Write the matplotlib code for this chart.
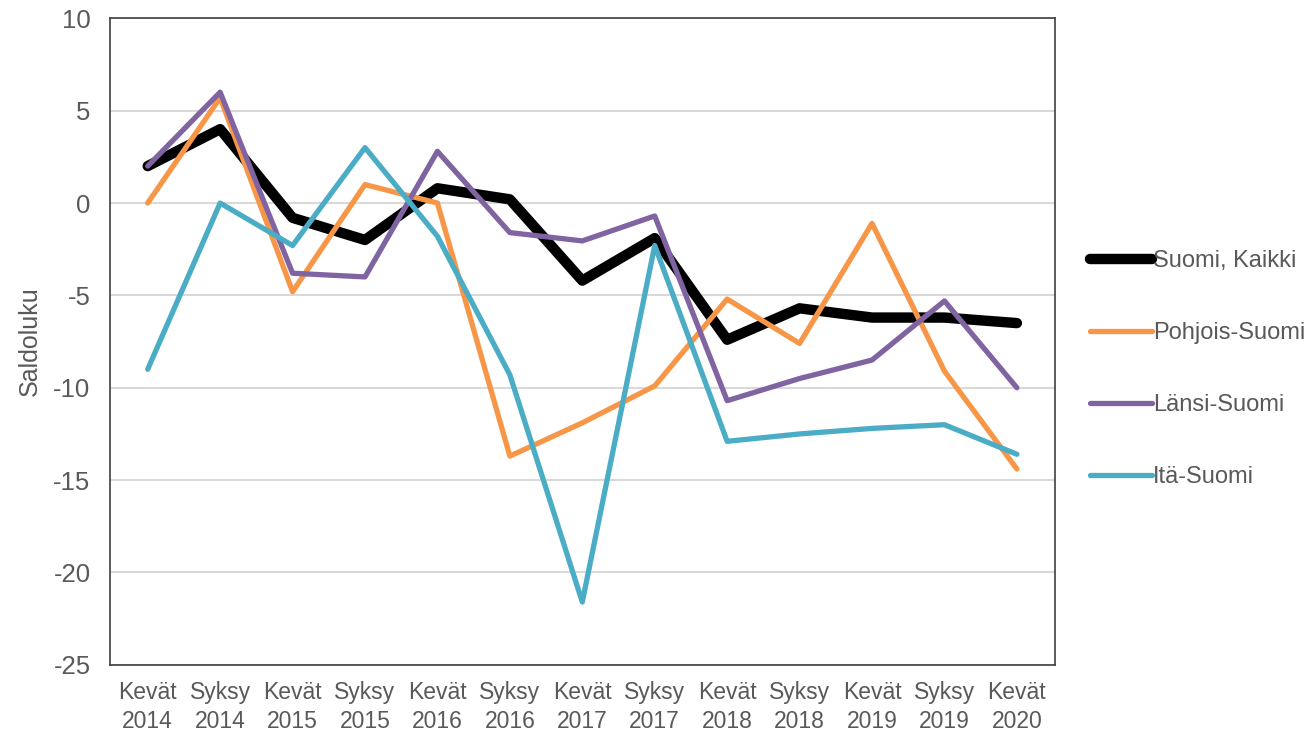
import matplotlib
matplotlib.use("Agg")
import matplotlib.pyplot as plt

plt.rcParams['font.family'] = ['Liberation Sans', 'DejaVu Sans']
plt.rcParams['axes.unicode_minus'] = False

categories = ["Kevät\n2014", "Syksy\n2014", "Kevät\n2015", "Syksy\n2015", "Kevät\n2016",
              "Syksy\n2016", "Kevät\n2017", "Syksy\n2017", "Kevät\n2018", "Syksy\n2018",
              "Kevät\n2019", "Syksy\n2019", "Kevät\n2020"]
suomi_kaikki = [2.0, 4.0, -0.8, -2.0, 0.8, 0.2, -4.2, -1.9, -7.4, -5.7, -6.2, -6.2, -6.5]
pohjois = [0.0, 5.7, -4.8, 1.0, 0.0, -13.7, -11.9, -9.9, -5.2, -7.6, -1.1, -9.1, -14.4]
lansi = [2.0, 6.0, -3.8, -4.0, 2.8, -1.6, -2.05, -0.7, -10.7, -9.5, -8.5, -5.3, -10.0]
ita = [-9.0, 0.0, -2.3, 3.0, -1.8, -9.3, -21.6, -2.3, -12.9, -12.5, -12.2, -12.0, -13.6]

text_color = '#595959'
fig = plt.figure(figsize=(13.1, 7.33), dpi=100)
ax = fig.add_axes([0.084, 0.093, 0.721, 0.882])

x = range(len(categories))
ax.plot(x, suomi_kaikki, color='black', lw=7.5, solid_capstyle='round', solid_joinstyle='round', label='Suomi, Kaikki', zorder=3)
ax.plot(x, pohjois, color='#F79646', lw=3.8, solid_capstyle='round', solid_joinstyle='round', label='Pohjois-Suomi', zorder=4)
ax.plot(x, lansi, color='#8064A2', lw=3.8, solid_capstyle='round', solid_joinstyle='round', label='Länsi-Suomi', zorder=5)
ax.plot(x, ita, color='#4BACC6', lw=3.8, solid_capstyle='round', solid_joinstyle='round', label='Itä-Suomi', zorder=6)

ax.set_xlim(-0.52, len(categories) - 0.48)
ax.set_ylim(-25, 10)
ax.set_yticks(range(-25, 11, 5))
ax.set_xticks(list(x))
ax.set_xticklabels(categories, fontsize=16.5, color=text_color, linespacing=1.3)
ax.tick_params(axis='y', labelsize=18.5, colors=text_color, length=0, pad=14)
ax.tick_params(axis='x', length=0, pad=12)
ax.yaxis.grid(True, color='#D9D9D9', lw=1.5)
ax.set_axisbelow(True)
for s in ax.spines.values():
    s.set_color('#404040')
    s.set_linewidth(1.2)
ax.set_ylabel('Saldoluku', fontsize=18, color=text_color, labelpad=8)

leg = ax.legend(loc='center left', bbox_to_anchor=(1.028, 0.457), frameon=False,
                fontsize=17, labelspacing=2.12, handlelength=2.6, handletextpad=0.05,
                borderaxespad=0)
for t in leg.get_texts():
    t.set_color(text_color)

fig.savefig('out.png', dpi=100)
